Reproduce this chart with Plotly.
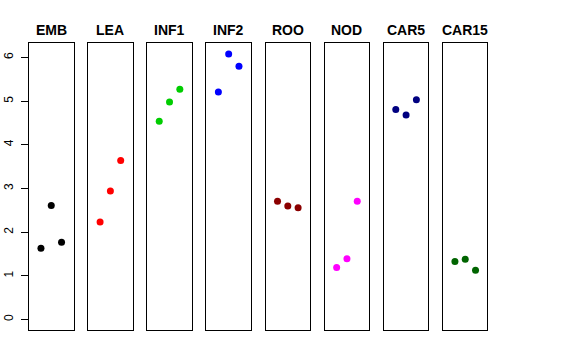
import plotly.graph_objects as go

groups = ["EMB", "LEA", "INF1", "INF2", "ROO", "NOD", "CAR5", "CAR15"]
colors = ["#000000", "#FF0000", "#00CD00", "#0000FF", "#8B0000", "#FF00FF", "#000080", "#006400"]
x_pos = [1, 2, 3]
values = {
    "EMB": [1.63, 2.61, 1.77],
    "LEA": [2.23, 2.94, 3.64],
    "INF1": [4.54, 4.98, 5.27],
    "INF2": [5.21, 6.08, 5.80],
    "ROO": [2.71, 2.60, 2.56],
    "NOD": [1.19, 1.39, 2.71],
    "CAR5": [4.81, 4.68, 5.03],
    "CAR15": [1.33, 1.38, 1.13],
}
y_ticks = [0, 1, 2, 3, 4, 5, 6]

W, H = 576, 360
ml, mr, mt, mb = 29, 88, 43, 30
pw = W - ml - mr
step = 59.14
boxw = 44.5

fig = go.Figure()
layout = dict(
    width=W, height=H,
    margin=dict(l=ml, r=mr, t=mt, b=mb, autoexpand=False),
    paper_bgcolor="white", plot_bgcolor="white",
    showlegend=False,
    font=dict(family="Liberation Sans, Arial, sans-serif", color="black"),
)
annotations = []
for i, g in enumerate(groups):
    n = "" if i == 0 else str(i + 1)
    x0 = i * step / pw
    x1 = min((i * step + boxw) / pw, 1.0)
    fig.add_trace(go.Scatter(
        x=x_pos, y=values[g], mode="markers",
        marker=dict(color=colors[i], size=7),
        xaxis="x" + n, yaxis="y" + n, hoverinfo="skip",
    ))
    layout["xaxis" + n] = dict(
        domain=[x0, x1], range=[-0.16, 4.16], anchor="y" + n, automargin=False,
        showgrid=False, zeroline=False, showticklabels=False, ticks="",
        showline=True, mirror=True, linecolor="black", linewidth=1,
    )
    ya = dict(
        range=[-0.24, 6.33], anchor="x" + n, automargin=False,
        showgrid=False, zeroline=False,
        showline=True, mirror=True, linecolor="black", linewidth=1,
    )
    if i == 0:
        ya.update(ticks="outside", ticklen=7, tickcolor="black",
                  tickvals=y_ticks, ticktext=[str(v) for v in y_ticks],
                  tickangle=-90, tickfont=dict(size=12), ticklabelstandoff=3)
    else:
        ya.update(showticklabels=False, ticks="", matches="y")
    layout["yaxis" + n] = ya
    annotations.append(dict(
        x=(x0 + x1) / 2, y=1, xref="paper", yref="paper",
        xanchor="center", yanchor="bottom", yshift=3,
        text="<b>" + g + "</b>", showarrow=False,
        font=dict(size=14, family="Liberation Sans, Arial, sans-serif"),
    ))
layout["annotations"] = annotations
fig.update_layout(**layout)
fig.write_html("out.html", config={"displayModeBar": False},
               post_script="document.body.style.margin='0';document.body.style.padding='0';")
